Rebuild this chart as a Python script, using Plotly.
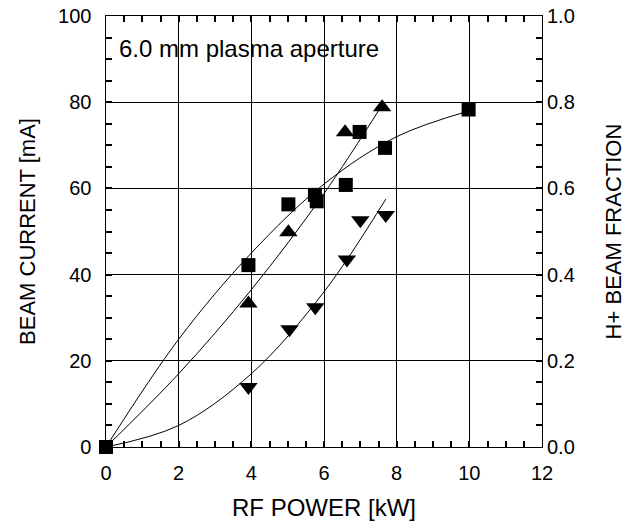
import plotly.graph_objects as go

# ---- data ----
sq_x = [0, 3.92, 5.02, 5.75, 5.8, 6.6, 6.98, 7.68, 9.98]
sq_y = [0, 42.2, 56.3, 58.5, 57.0, 60.8, 73.1, 69.4, 78.3]

up_x = [3.92, 5.02, 6.58, 7.6]
up_y = [33.3, 49.8, 73.0, 78.8]

dn_x = [3.92, 5.05, 5.76, 6.63, 7.0, 7.7]
dn_y = [13.9, 27.3, 32.4, 43.5, 52.6, 53.8]

# fitted curves
fit_sq_x = [0, 2, 4, 6, 8, 10]
fit_sq_y = [0, 25, 45, 61, 72, 78]
fit_up_x = [0, 2, 4, 6, 7.65]
fit_up_y = [0, 17, 36.5, 58.8, 80]
fit_dn_x = [0, 2, 4, 6, 7.7]
fit_dn_y = [0, 5, 17, 36, 57.5]

x_range = [0, 12]
y_range = [0, 100]
y2_range = [0, 1]

FONT = "Liberation Sans, Arial, sans-serif"

fig = go.Figure()
line_style = dict(color="black", width=1, shape="spline", smoothing=1.0)
for fx, fy in [(fit_sq_x, fit_sq_y), (fit_up_x, fit_up_y), (fit_dn_x, fit_dn_y)]:
    fig.add_trace(go.Scatter(x=fx, y=fy, mode="lines", line=line_style,
                             showlegend=False, hoverinfo="skip"))

fig.add_trace(go.Scatter(x=up_x, y=up_y, mode="markers", cliponaxis=False,
                         marker=dict(symbol="triangle-up", size=16, color="black"),
                         showlegend=False))
fig.add_trace(go.Scatter(x=dn_x, y=dn_y, mode="markers", cliponaxis=False,
                         marker=dict(symbol="triangle-down", size=16, color="black"),
                         showlegend=False))
fig.add_trace(go.Scatter(x=sq_x, y=sq_y, mode="markers", cliponaxis=False,
                         marker=dict(symbol="square", size=14, color="black"),
                         showlegend=False))
fig.add_trace(go.Scatter(x=[0], y=[0], yaxis="y2", mode="markers",
                         marker=dict(opacity=0), showlegend=False, hoverinfo="skip"))

fig.add_annotation(x=0.3, y=92.5, xref="x", yref="y", text="6.0 mm plasma aperture",
                   showarrow=False, xanchor="left", yanchor="middle",
                   font=dict(family=FONT, size=24, color="black"))

minor_common = dict(ticks="inside", ticklen=6, tickcolor="black", tickwidth=1.5, showgrid=False)

fig.update_layout(
    width=635, height=527,
    margin=dict(l=106, r=93, t=16, b=80),
    plot_bgcolor="white", paper_bgcolor="white",
    font=dict(family=FONT, size=20, color="black"),
    xaxis=dict(
        range=x_range, tick0=0, dtick=2,
        showline=True, linecolor="black", linewidth=1, mirror="allticks",
        ticks="inside", ticklen=6, tickcolor="black", tickwidth=1.5,
        showgrid=True, gridcolor="black", gridwidth=1, zeroline=False,
        minor=dict(dtick=0.5, **minor_common),
        ticklabelstandoff=8,
        title=dict(text="RF POWER [kW]", font=dict(size=24), standoff=16),
        automargin=False,
    ),
    yaxis=dict(
        range=y_range, tick0=0, dtick=20, ticksuffix="\u00a0\u2009",
        showline=True, linecolor="black", linewidth=1,
        ticks="inside", ticklen=6, tickcolor="black", tickwidth=1.5,
        showgrid=True, gridcolor="black", gridwidth=1, zeroline=False,
        minor=dict(dtick=5, **minor_common),
        title=dict(text="BEAM CURRENT [mA]", font=dict(size=22), standoff=16),
        automargin=False,
    ),
    yaxis2=dict(
        range=y2_range, tick0=0, dtick=0.2, tickformat=".1f",
        overlaying="y", side="right",
        showline=True, linecolor="black", linewidth=1,
        ticks="inside", ticklen=6, tickcolor="black", tickwidth=1.5,
        showgrid=False, zeroline=False,
        minor=dict(dtick=0.05, **minor_common),
        title=dict(text="H+ BEAM FRACTION", font=dict(size=22), standoff=31),
        automargin=False,
    ),
)

fig.write_html("out.html")
